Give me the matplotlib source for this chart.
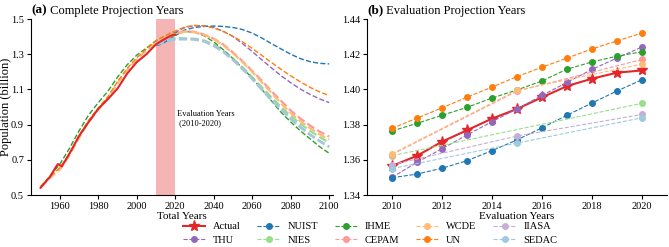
import matplotlib
matplotlib.use("Agg")
import matplotlib.pyplot as plt
import numpy as np

plt.rcParams['font.family'] = ['Liberation Serif', 'DejaVu Serif']

# ---------------- data ----------------
eval_years = [2010, 2011, 2012, 2013, 2014, 2015, 2016, 2017, 2018, 2019, 2020]
five_years = [2010, 2015, 2020]
end_years = [2010, 2020]

actual_b = [1.3565, 1.3623, 1.3703, 1.3768, 1.3834, 1.3889, 1.3955, 1.4019, 1.4061, 1.4095, 1.4108]
nuist_b = [1.3498, 1.3519, 1.3552, 1.3595, 1.3652, 1.3713, 1.3782, 1.3853, 1.3923, 1.3991, 1.4055]
ihme_b = [1.3764, 1.3807, 1.3853, 1.3898, 1.3951, 1.3997, 1.4048, 1.4115, 1.4156, 1.4189, 1.4214]
un_b = [1.3778, 1.3837, 1.3895, 1.3956, 1.4013, 1.4073, 1.4126, 1.4178, 1.4230, 1.4276, 1.4320]
thu_b = [1.3500, 1.3586, 1.3663, 1.3741, 1.3817, 1.3889, 1.3966, 1.4040, 1.4114, 1.4178, 1.4241]
wcde_b = [1.3634, 1.3995, 1.4144]
cepam_b = [1.3630, 1.3990, 1.4170]
nies_b = [1.3623, 1.3921]
iiasa_b = [1.3572, 1.3735, 1.3858]
sedac_b = [1.3550, 1.3695, 1.3839]

# historical part (panel a)
actual_hist_years = [1950, 1955, 1958, 1959, 1961, 1965, 1970, 1974, 1980, 1985, 1990, 1995, 2000, 2005]
actual_hist = [0.541, 0.605, 0.660, 0.676, 0.662, 0.735, 0.835, 0.900, 0.990, 1.045, 1.105, 1.190, 1.255, 1.300]
hist_years = [1950, 1955, 1960, 1965, 1970, 1975, 1980, 1985, 1990, 1995, 2000, 2005]
ihme_hist = [0.545, 0.610, 0.675, 0.765, 0.865, 0.955, 1.025, 1.090, 1.170, 1.240, 1.295, 1.335]
un_hist = [0.548, 0.606, 0.655, 0.735, 0.840, 0.925, 0.995, 1.060, 1.145, 1.220, 1.280, 1.330]
wcde_hist = [0.545, 0.598, 0.645, 0.725, 0.825, 0.915, 0.985, 1.050, 1.135, 1.210, 1.270, 1.322]

# projection part (panel a)
future_years = [2025, 2030, 2035, 2040, 2045, 2050, 2055, 2060, 2065, 2070, 2075, 2080, 2085, 2090, 2095, 2100]
nuist_f = [1.438, 1.452, 1.458, 1.460, 1.458, 1.452, 1.440, 1.420, 1.392, 1.360, 1.330, 1.300, 1.275, 1.258, 1.248, 1.245]
thu_f = [1.452, 1.462, 1.462, 1.452, 1.430, 1.400, 1.360, 1.315, 1.268, 1.222, 1.178, 1.138, 1.102, 1.072, 1.046, 1.025]
un_f = [1.455, 1.464, 1.461, 1.449, 1.429, 1.402, 1.370, 1.333, 1.293, 1.253, 1.214, 1.177, 1.143, 1.112, 1.086, 1.065]
ihme_f = [1.430, 1.425, 1.405, 1.370, 1.325, 1.275, 1.220, 1.165, 1.100, 1.035, 0.970, 0.915, 0.865, 0.820, 0.775, 0.737]
wcde_f = [1.428, 1.425, 1.410, 1.385, 1.350, 1.305, 1.255, 1.200, 1.140, 1.080, 1.020, 0.965, 0.920, 0.880, 0.845, 0.815]
cepam_f = [1.430, 1.428, 1.412, 1.388, 1.355, 1.310, 1.260, 1.205, 1.150, 1.090, 1.035, 0.980, 0.935, 0.895, 0.860, 0.832]
nies_f = [1.390, 1.388, 1.378, 1.355, 1.320, 1.275, 1.225, 1.170, 1.112, 1.055, 1.000, 0.950, 0.905, 0.865, 0.830, 0.797]
iiasa_f = [1.386, 1.385, 1.375, 1.350, 1.315, 1.270, 1.218, 1.162, 1.102, 1.043, 0.988, 0.935, 0.888, 0.845, 0.808, 0.775]
sedac_f = [1.385, 1.383, 1.372, 1.347, 1.312, 1.266, 1.214, 1.158, 1.098, 1.040, 0.984, 0.931, 0.884, 0.842, 0.805, 0.772]

model_names = ["THU", "NUIST", "NIES", "IHME", "CEPAM", "WCDE", "UN", "IIASA", "SEDAC"]
colors = {
    "Actual": "#e3262a",
    "THU": "#9467bd", "NUIST": "#1f77b4", "NIES": "#98df8a", "IHME": "#2ca02c",
    "CEPAM": "#ff9896", "WCDE": "#ffbb78", "UN": "#ff7f0e", "IIASA": "#c5b0d5",
    "SEDAC": "#9ecae1",
}
light = {"NIES", "CEPAM", "WCDE", "IIASA", "SEDAC"}

eval_data = {
    "THU": (eval_years, thu_b), "NUIST": (eval_years, nuist_b), "NIES": (end_years, nies_b),
    "IHME": (eval_years, ihme_b), "CEPAM": (five_years, cepam_b), "WCDE": (five_years, wcde_b),
    "UN": (eval_years, un_b), "IIASA": (five_years, iiasa_b), "SEDAC": (five_years, sedac_b),
}
hist_data = {"IHME": ihme_hist, "UN": un_hist, "WCDE": wcde_hist}
future_data = {
    "THU": thu_f, "NUIST": nuist_f, "NIES": nies_f, "IHME": ihme_f, "CEPAM": cepam_f,
    "WCDE": wcde_f, "UN": un_f, "IIASA": iiasa_f, "SEDAC": sedac_f,
}

# ---------------- figure ----------------
fig = plt.figure(figsize=(6.69, 2.47), dpi=100)
axa = fig.add_axes([0.0463, 0.2105, 0.4515, 0.7125])
axb = fig.add_axes([0.5486, 0.2105, 0.4484, 0.7125])

# panel (a)
axa.axvspan(2010, 2020, color="#f4a3a3", alpha=0.8, lw=0, zorder=0)
for name in model_names:
    yrs, vals = eval_data[name]
    xs = list(yrs) + future_years
    ys = list(vals) + future_data[name]
    if name in hist_data:
        xs = hist_years + xs
        ys = hist_data[name] + ys
    axa.plot(xs, ys, ls="--", color=colors[name], lw=1.6 if name in light else 1.0, zorder=2)
axa.plot(actual_hist_years + eval_years, actual_hist + actual_b, color=colors["Actual"], lw=1.5, zorder=3)
axa.text(2021, 0.935, "Evaluation Years\n (2010-2020)", fontsize=6, ha="left", va="center")
axa.set_xlim(1945, 2102)
axa.set_ylim(0.5, 1.5)
axa.set_xticks([1960, 1980, 2000, 2020, 2040, 2060, 2080, 2100])
axa.set_yticks([0.5, 0.7, 0.9, 1.1, 1.3, 1.5])
axa.set_yticklabels(["0.5", "0.7", "0.9", "1.1", "1.3", "1.5"])
axa.set_xlabel("Total Years", fontsize=8, labelpad=1)
axa.set_ylabel("Population (billion)", fontsize=9)
axa.yaxis.set_label_coords(-0.062, 0.5)

# panel (b)
handles = {}
h, = axb.plot(eval_years, actual_b, color=colors["Actual"], lw=1.5, marker="*", ms=8, zorder=3)
handles["Actual"] = h
for name in model_names:
    yrs, vals = eval_data[name]
    h, = axb.plot(yrs, vals, ls="--", color=colors[name], lw=0.8, marker="o", ms=4, zorder=4)
    handles[name] = h
axb.set_xlim(2009, 2021)
axb.set_ylim(1.34, 1.44)
axb.set_xticks([2010, 2012, 2014, 2016, 2018, 2020])
axb.set_yticks([1.34, 1.36, 1.38, 1.40, 1.42, 1.44])
axb.set_yticklabels(["1.34", "1.36", "1.38", "1.40", "1.42", "1.44"])
axb.set_xlabel("Evaluation Years", fontsize=8, labelpad=1)

for ax, tag, title in [(axa, "(a)", "Complete Projection Years"), (axb, "(b)", "Evaluation Projection Years")]:
    for s in ["top", "right"]:
        ax.spines[s].set_visible(False)
    ax.spines["left"].set_linewidth(0.8)
    ax.spines["bottom"].set_linewidth(0.8)
    ax.tick_params(labelsize=7.5, length=3, width=0.8, pad=2)
    t = ax.text(0.0, 1.03, tag, transform=ax.transAxes, fontsize=9.5, fontweight="bold",
                ha="left", va="baseline")
    ax.annotate(" " + title, xy=(1, 0), xycoords=t, fontsize=9, ha="left", va="bottom")

order = ["Actual"] + model_names
fig.legend([handles[n] for n in order], order, ncol=5, loc="upper center",
           bbox_to_anchor=(0.553, 0.118), frameon=False, fontsize=7.5,
           handlelength=2.2, handletextpad=0.7, columnspacing=1.6,
           borderaxespad=0, labelspacing=0.4)

fig.savefig("out.png", dpi=100)
